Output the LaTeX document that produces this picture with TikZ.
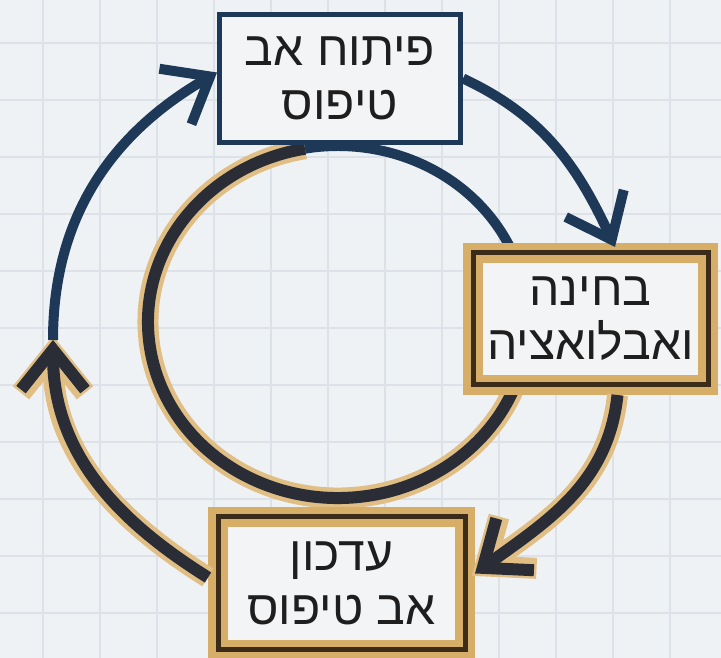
\documentclass[tikz,border=0pt]{standalone}
\usepackage{fontspec}
\usetikzlibrary{arrows.meta}
\newfontfamily\heb[Script=Hebrew]{Liberation Sans}
\TeXXeTstate=1
\definecolor{bgc}{HTML}{EEF2F5}
\definecolor{gridc}{HTML}{DCE2E8}
\definecolor{navyc}{HTML}{1E3858}
\definecolor{goldc}{HTML}{D6AE68}
\definecolor{haloc}{HTML}{E0BE84}
\definecolor{corec}{HTML}{2A2D36}
\definecolor{brownc}{HTML}{3A2C18}
\definecolor{fillc}{HTML}{F2F4F6}
\definecolor{textc}{HTML}{1E1E1E}
\begin{document}
\begin{tikzpicture}[x=1pt,y=1pt,
  lbl/.style={font=\heb\fontsize{48}{54}\selectfont, text=textc, align=center, inner sep=0pt},
  navybox/.style={lbl, draw=navyc, line width=5pt, fill=fillc},
  goldbox/.style={lbl, draw=goldc, line width=20pt, fill=fillc,
    postaction={draw=brownc, line width=5pt}},
  barb/.style={-{Straight Barb[length=40pt,width=64pt]}},
  navyarrow/.style={barb, draw=navyc, line width=10pt},
  goldarrow/.style={barb, draw=corec, line width=12pt,
    preaction={barb, draw=haloc, line width=21pt, shorten >=-4pt}}]
\clip (0,0) rectangle (721,658);
\fill[bgc] (0,0) rectangle (721,658);
\foreach \i in {0,...,11} \draw[gridc, line width=1.5pt] (43+57*\i,0) -- (43+57*\i,658);
\foreach \i in {0,...,10} \draw[gridc, line width=1.5pt] (0,615-57*\i) -- (721,615-57*\i);
% ring
\coordinate (r1) at (305.0,509.3);
\coordinate (r0) at (528,336);
\draw[corec, line width=12pt, preaction={draw=haloc, line width=21pt}]
  (r1) arc[start angle=100, end angle=360, x radius=190, y radius=176];
\draw[navyc, line width=10pt] (r0) arc[start angle=0, end angle=100, x radius=190, y radius=176];
% boxes
\node[navybox, minimum width=241pt, minimum height=128pt] (top) at (340,579.5)
  {\beginR פיתוח אב\endR\\\beginR טיפוס\endR};
\node[goldbox, minimum width=235pt, minimum height=132pt] (right) at (590.5,339)
  {\beginR בחינה\endR\\\beginR ואבלואציה\endR};
\node[goldbox, minimum width=247pt, minimum height=133pt] (bottom) at (341.5,74.5)
  {\beginR עדכון\endR\\\beginR אב טיפוס\endR};
\coordinate (lt) at (53,318);
% arrows
\draw[navyarrow] (top.east) to[out=-25, in=115, looseness=1.0] ([xshift=24.5pt,yshift=-4pt]right.north);
\draw[goldarrow] ([xshift=27pt]right.south) to[out=-96, in=36, looseness=1.0] ([yshift=10pt]bottom.east);
\draw[goldarrow] ([yshift=6pt]bottom.west) to[out=148, in=270, looseness=1.0] (lt);
\draw[navyarrow] (lt) to[out=90, in=210, looseness=1.0] ([yshift=6pt]top.west);
\end{tikzpicture}
\end{document}
